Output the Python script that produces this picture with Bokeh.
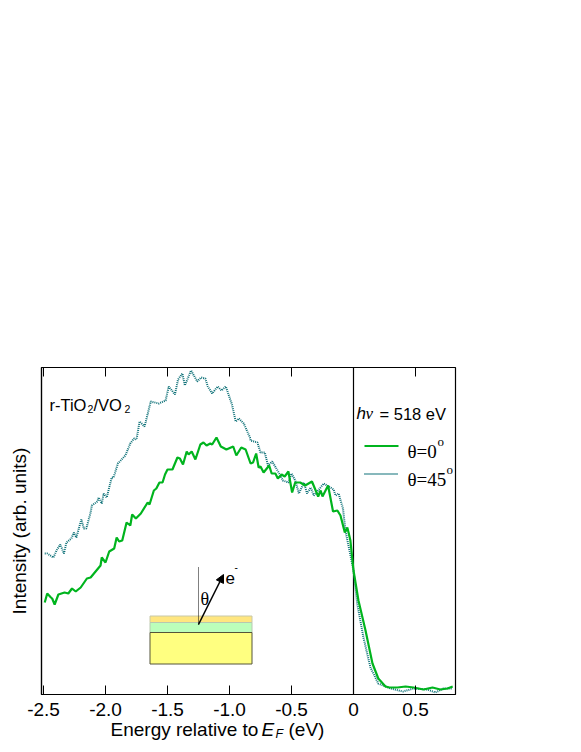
from bokeh.plotting import figure
from bokeh.layouts import column
from bokeh.models import Label, Range1d, FixedTicker, Arrow, NormalHead
from bokeh.embed import file_html
from bokeh.resources import INLINE

green_e = [-2.49,-2.47,-2.44,-2.43,-2.41,-2.38,-2.33,-2.30,-2.27,-2.24,-2.20,-2.15,-2.12,-2.04,-2.03,-2.00,-1.97,-1.93,-1.91,-1.89,-1.865,-1.83,-1.80,-1.785,-1.755,-1.715,-1.66,-1.645,-1.61,-1.59,-1.565,-1.54,-1.52,-1.50,-1.46,-1.42,-1.40,-1.375,-1.345,-1.33,-1.305,-1.275,-1.235,-1.21,-1.185,-1.155,-1.14,-1.105,-1.07,-1.025,-0.97,-0.945,-0.905,-0.87,-0.83,-0.81,-0.785,-0.765,-0.75,-0.725,-0.68,-0.66,-0.63,-0.61,-0.58,-0.555,-0.525,-0.495,-0.47,-0.43,-0.39,-0.335,-0.285,-0.265,-0.25,-0.205,-0.165,-0.13,-0.105,-0.07,-0.05,-0.04,-0.025,0,0.04,0.097,0.153,0.20,0.258,0.29,0.355,0.42,0.484,0.565,0.637,0.70,0.758,0.80]
green_i = [92,101,97,96,90,100,102,101,106,103,107,116,117,129,137,132,143,146,157,153,154,172,169,180,176,181,192,190,204,206,212,212,220,225,225,237,236,230,243,240,243,235,250,252,249,251,250,257,248,245,248,239,247,245,231,232,241,227,228,222,229,221,221,216,220,218,223,202,212,212,209,213,198,204,198,209,183,184,179,162,167,162,154,124,94,64,31,16,8,7,7,8,7,5,7,5,6,8]
teal_e = [-2.49,-2.47,-2.42,-2.395,-2.365,-2.335,-2.315,-2.275,-2.255,-2.235,-2.215,-2.195,-2.175,-2.155,-2.12,-2.11,-2.065,-2.055,-2.03,-2.015,-1.99,-1.95,-1.935,-1.90,-1.84,-1.80,-1.77,-1.75,-1.725,-1.685,-1.635,-1.57,-1.515,-1.49,-1.44,-1.415,-1.38,-1.36,-1.31,-1.26,-1.23,-1.195,-1.175,-1.14,-1.095,-1.065,-1.03,-0.98,-0.95,-0.925,-0.885,-0.835,-0.83,-0.775,-0.75,-0.715,-0.69,-0.655,-0.59,-0.57,-0.525,-0.50,-0.47,-0.44,-0.40,-0.375,-0.345,-0.32,-0.285,-0.24,-0.16,-0.145,-0.12,-0.085,-0.065,0,0.03,0.08,0.137,0.20,0.30,0.40,0.484,0.597,0.66,0.726,0.80]
teal_i = [141,141,137,144,150,141,152,156,162,157,166,175,166,166,182,189,193,197,191,201,197,217,217,231,239,251,256,255,273,268,293,291,294,308,300,315,321,309,324,313,317,316,308,301,308,304,308,290,273,276,271,257,254,252,242,242,229,233,219,214,212,221,214,201,212,201,207,199,204,211,205,199,201,186,164,124,91,57,27,11,6,3,6,5,2,6,6]
x_ticks = [-2.5,-2.0,-1.5,-1.0,-0.5,0,0.5]
x_tick_labels = {-2.5:"-2.5",-2.0:"-2.0",-1.5:"-1.5",-1.0:"-1.0",-0.5:"-0.5",0:"0",0.5:"0.5"}

GREEN = "#00b41e"
TEAL = "#0e7178"
SANS = "Liberation Sans"
SERIF = "Liberation Serif"

def X(px):
    return (px - 353) / 124
def Y(py):
    return 694 - py

W, H, H2 = 575, 722, 34
STRIP_TOP = 716
L, T0, FW, FH = 41, 367, 414, 327
p = figure(width=W, height=H, output_backend="svg", toolbar_location=None,
           x_range=Range1d(X(41), X(455)), y_range=Range1d(0, Y(367)),
           min_border_left=L, min_border_right=W-L-FW, min_border_top=T0, min_border_bottom=H-T0-FH,
           outline_line_color="black", outline_line_width=1.2, background_fill_color="white",
           border_fill_color="white")
p.grid.visible = False

ax = p.xaxis[0]
ax.ticker = FixedTicker(ticks=x_ticks)
ax.major_label_overrides = x_tick_labels
ax.major_tick_in = 9; ax.major_tick_out = 0
ax.minor_tick_in = 0; ax.minor_tick_out = 0
ax.major_tick_line_color = "black"; ax.major_tick_line_width = 1
ax.axis_line_color = "black"; ax.axis_line_width = 1.2
ax.major_label_text_font = SANS; ax.major_label_text_font_size = "19px"
ax.major_label_text_color = "black"; ax.major_label_standoff = 8

ay = p.yaxis[0]
ay.ticker = FixedTicker(ticks=[])
ay.major_tick_line_color = None; ay.minor_tick_line_color = None
ay.major_label_standoff = 0
ay.axis_line_color = "black"; ay.axis_line_width = 1.2
ay.axis_label = "Intensity (arb. units)"
ay.axis_label_text_font = SANS; ay.axis_label_text_font_size = "19px"
ay.axis_label_text_font_style = "normal"; ay.axis_label_text_color = "black"
ay.axis_label_standoff = 12

# top ticks
p.segment(x0=x_ticks, x1=x_ticks, y0=[Y(367)]*len(x_ticks), y1=[Y(376)]*len(x_ticks), line_color="black", line_width=1)

# inset
p.quad(left=[X(149.5)], right=[X(251.5)], top=[Y(615.5)], bottom=[Y(622)], fill_color="#ffe680", line_color="#c8c8a8", line_width=1)
p.quad(left=[X(149.5)], right=[X(251.5)], top=[Y(622)], bottom=[Y(632)], fill_color="#bbffbb", line_color="#b8c8b0", line_width=1)
p.quad(left=[X(149.5)], right=[X(251.5)], top=[Y(632)], bottom=[Y(663.5)], fill_color="#ffff80", line_color="#55553a", line_width=1)
p.line([X(198), X(198)], [Y(624), Y(567)], line_color="black", line_width=1, line_dash="1 1")
p.add_layout(Arrow(end=NormalHead(size=8, fill_color="black", line_color="black"), x_start=X(198), y_start=Y(624), x_end=X(223), y_end=Y(574), line_width=1.5, line_color="black"))

p.line([0, 0], [0, Y(367)], line_color="black", line_width=1.2)
p.line(teal_e, teal_i, line_color=TEAL, line_width=2, line_dash="1 1")
p.line(green_e, green_i, line_color=GREEN, line_width=2.2)

# legend samples
p.line([X(364), X(398)], [Y(445.5), Y(445.5)], line_color=GREEN, line_width=2.2)
p.line([X(364), X(398)], [Y(473.5), Y(473.5)], line_color=TEAL, line_width=2, line_dash="1 1")

def T(txt, px, py, size=17, font=SANS, style="normal"):
    p.add_layout(Label(x=X(px), y=Y(py), text=txt, text_font=font, text_font_size=f"{size}px", text_font_style=style,
                       text_align="left", text_baseline="alphabetic", text_color="black"))

T("r-TiO", 49, 404, 16.5)
T("2", 87, 408, 10.5)
T("/VO", 93, 404, 16.5)
T("2", 124, 408, 10.5)
T("h", 356, 413, 17, style="italic")
T("\u03bd", 365, 413, 17, font=SERIF, style="italic")
T("= 518 eV", 379, 413, 16.5)
T("\u03b8=0", 407, 451, 19, font=SERIF)
T("o", 437, 441, 13, font=SERIF)
T("\u03b8=45", 407, 479, 19, font=SERIF)
T("o", 446, 469, 13, font=SERIF)
T("\u03b8", 200, 598, 18, font=SERIF)
T("e", 225, 577, 17)
T("-", 234, 566, 10)

# axis title strip, pulled up over the plot's lower border; transparent so the tick labels stay visible
p2 = figure(width=W, height=H2, output_backend="svg", toolbar_location=None,
            x_range=Range1d(L, L + FW), y_range=Range1d(H2, 0), x_axis_location=None, y_axis_location=None,
            min_border=0, outline_line_color=None, background_fill_alpha=0, border_fill_alpha=0,
            margin=(-14, 0, 0, 0))
p2.grid.visible = False

def B(txt, px, py, size=19, style="normal"):
    p2.add_layout(Label(x=px, y=py - STRIP_TOP, text=txt, text_font=SANS, text_font_size=f"{size}px", text_font_style=style,
                        text_align="left", text_baseline="alphabetic", text_color="black"))

B("Energy relative to", 110, 737)
B("E", 261, 737, style="italic")
B("F", 275, 741, 12.5, style="italic")
B("(eV)", 288, 737)

page = column(p, p2, spacing=0)
open("out.html", "w").write(file_html(page, INLINE))
